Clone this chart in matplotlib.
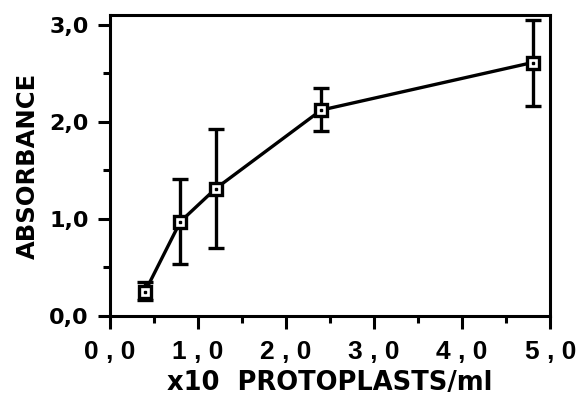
import matplotlib
matplotlib.use("Agg")
import matplotlib.pyplot as plt
from matplotlib.ticker import MultipleLocator, FixedLocator

# data
protoplasts = [0.4, 0.8, 1.2, 2.4, 4.8]
absorbance = [0.25, 0.97, 1.31, 2.12, 2.61]
err_low = [0.09, 0.44, 0.61, 0.22, 0.45]
err_high = [0.10, 0.44, 0.62, 0.23, 0.44]

x_ticks = [0, 1, 2, 3, 4, 5]
x_ticklabels = ["0 , 0", "1 , 0", "2 , 0", "3 , 0", "4 , 0", "5 , 0"]
y_ticks = [0, 1, 2, 3]
y_ticklabels = ["0,0", "1,0", "2,0", "3,0"]

plt.rcParams['font.family'] = ['DejaVu Sans']
plt.rcParams['font.weight'] = 'bold'

fig = plt.figure(figsize=(5.81, 4.04), dpi=100)
ax = fig.add_axes([0.189, 0.218, 0.758, 0.745])

ax.errorbar(protoplasts, absorbance, yerr=[err_low, err_high], color='black',
            linewidth=2.4, elinewidth=2.4, capsize=6, capthick=2.4,
            marker='s', markersize=9, markerfacecolor='white',
            markeredgecolor='black', markeredgewidth=2.4, zorder=3)
# little dot inside each square
ax.plot(protoplasts, absorbance, linestyle='none', marker='s', markersize=2,
        color='black', zorder=4)

ax.set_xlim(0, 5.0)
ax.set_ylim(0, 3.1)

ax.xaxis.set_major_locator(FixedLocator(x_ticks))
ax.set_xticklabels(x_ticklabels, family=['Liberation Sans'], fontsize=19,
                   fontweight='bold')
ax.xaxis.set_minor_locator(MultipleLocator(0.5))
ax.yaxis.set_major_locator(FixedLocator(y_ticks))
ax.set_yticklabels(y_ticklabels, fontsize=16, fontweight='bold')
ax.yaxis.set_minor_locator(MultipleLocator(0.5))

ax.tick_params(axis='both', which='major', direction='out', length=9, width=2.2)
ax.tick_params(axis='both', which='minor', direction='out', length=5, width=2.2)
ax.tick_params(axis='x', pad=8)
ax.tick_params(axis='y', pad=6)

for s in ax.spines.values():
    s.set_linewidth(2.2)

ax.set_xlabel("x10  PROTOPLASTS/ml", fontsize=18.5, fontweight='bold', labelpad=5)
ax.set_ylabel("ABSORBANCE", fontsize=17.5, fontweight='bold', labelpad=7)

fig.savefig("out.png", dpi=100)
